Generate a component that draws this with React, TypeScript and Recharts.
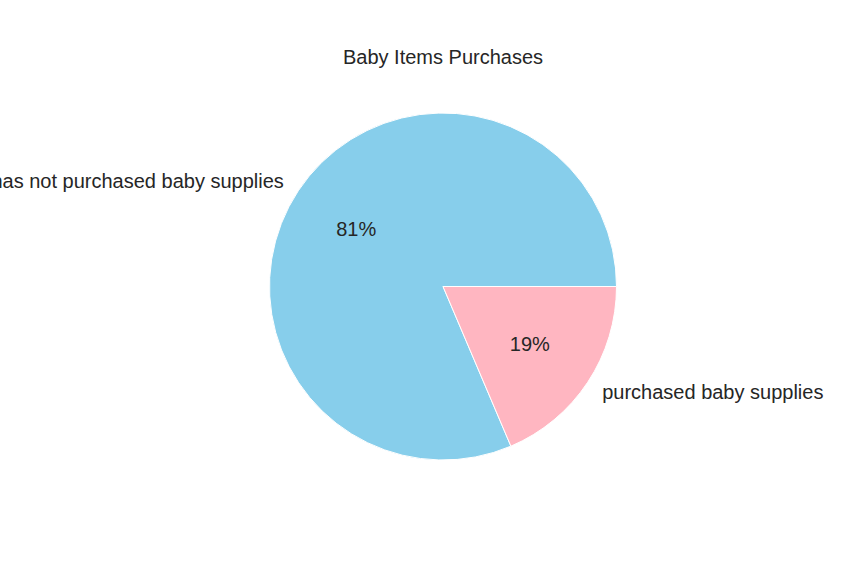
import { Cell, Pie, PieChart } from 'recharts';

const labels = ['has not purchased baby supplies', 'purchased baby supplies'];
const shares = [81.4, 18.6];
const colors = ['#87CEEB', '#FFB6C1'];

const data = labels.map((name, i) => ({ name, value: shares[i] }));

const RAD = Math.PI / 180;
const textColor = '#262626';
const font = '"Liberation Sans", Arial, sans-serif';

const renderLabel = (props: any) => {
  const { cx, cy, midAngle, outerRadius, percent, name } = props;
  const cos = Math.cos(-midAngle * RAD);
  const sin = Math.sin(-midAngle * RAD);
  const rOut = outerRadius * 1.1;
  const rIn = outerRadius * 0.6;
  return (
    <g>
      <text
        x={cx + rOut * cos}
        y={cy + rOut * sin}
        textAnchor={cos < 0 ? 'end' : 'start'}
        dominantBaseline="central"
        fill={textColor}
        fontSize={20}
        fontFamily={font}
      >
        {name}
      </text>
      <text
        x={cx + rIn * cos}
        y={cy + rIn * sin}
        textAnchor="middle"
        dominantBaseline="central"
        fill={textColor}
        fontSize={20}
        fontFamily={font}
      >
        {`${Math.round(percent * 100)}%`}
      </text>
    </g>
  );
};

export default function App() {
  return (
    <div style={{ position: 'absolute', left: 0, top: 0, width: 864, height: 576, background: '#fff' }}>
      <div
        style={{
          position: 'absolute',
          left: 0,
          top: 44,
          width: 886,
          textAlign: 'center',
          fontFamily: font,
          fontSize: 20,
          color: textColor,
          lineHeight: '26px',
        }}
      >
        Baby Items Purchases
      </div>
      <PieChart width={864} height={576} style={{ position: 'absolute', left: 0, top: 0 }}>
        <Pie
          data={data}
          dataKey="value"
          nameKey="name"
          cx={438}
          cy={281.5}
          outerRadius={173.5}
          startAngle={0}
          endAngle={360}
          stroke="#fff"
          strokeWidth={1}
          label={renderLabel}
          labelLine={false}
          isAnimationActive={false}
        >
          {data.map((d, i) => (
            <Cell key={d.name} fill={colors[i]} />
          ))}
        </Pie>
      </PieChart>
    </div>
  );
}
